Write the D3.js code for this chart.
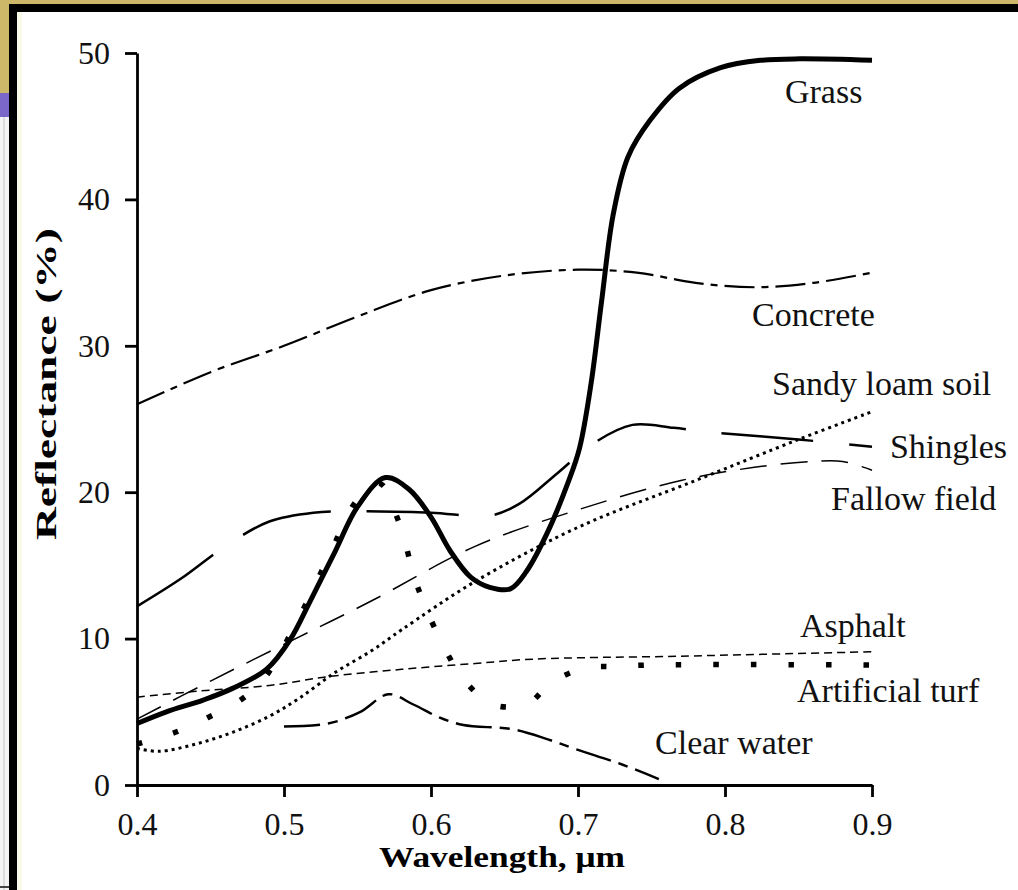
<!DOCTYPE html>
<html>
<head>
<meta charset="utf-8">
<script src="https://cdn.jsdelivr.net/npm/d3@7"></script>
<style>
  body { margin: 0; background: #fff; }
  svg { display: block; }
</style>
</head>
<body>
<svg id="my-svg"></svg>
<script>
// reflectance curves, [wavelength um, reflectance %]
const grass = [[0.40,4.2],[0.42,5.0],[0.445,5.8],[0.465,6.6],[0.488,7.9],[0.504,9.9],[0.518,12.6],
  [0.535,16.0],[0.55,19.0],[0.569,21.0],[0.585,20.2],[0.60,18.3],[0.613,16.0],[0.627,14.2],
  [0.64,13.5],[0.654,13.4],[0.665,14.6],[0.679,17.2],[0.693,20.6],[0.701,23.0],[0.709,27.5],
  [0.716,33.0],[0.724,39.0],[0.734,42.9],[0.749,45.4],[0.769,47.6],[0.797,49.0],[0.824,49.5],
  [0.851,49.6],[0.90,49.5]];
const concrete = [[0.40,26.0],[0.45,28.2],[0.50,30.0],[0.55,32.0],[0.60,33.8],[0.65,34.8],
  [0.70,35.2],[0.74,35.0],[0.78,34.3],[0.82,34.0],[0.86,34.3],[0.90,35.0]];
const sandyLoam = [[0.40,2.5],[0.415,2.3],[0.44,2.8],[0.465,3.6],[0.49,4.7],[0.51,5.9],[0.535,7.7],
  [0.56,9.2],[0.58,10.6],[0.63,13.9],[0.70,17.6],[0.78,20.8],[0.85,23.6],[0.90,25.5]];
const shingles = [[0.40,12.2],[0.43,14.1],[0.46,16.3],[0.49,18.0],[0.52,18.6],[0.55,18.7],
  [0.60,18.6],[0.64,18.4],[0.66,19.2],[0.686,21.3],[0.71,23.3],[0.737,24.6],[0.765,24.4],
  [0.79,24.1],[0.85,23.6],[0.90,23.1]];
const fallow = [[0.40,4.5],[0.45,7.1],[0.51,10.1],[0.56,12.6],[0.63,16.3],[0.70,18.8],[0.77,20.8],
  [0.82,21.7],[0.86,22.1],[0.88,22.1],[0.90,21.5]];
const asphalt = [[0.40,6.0],[0.44,6.4],[0.49,6.8],[0.53,7.4],[0.58,7.9],[0.63,8.3],[0.67,8.6],
  [0.77,8.8],[0.90,9.1]];
const turf = [[0.40,2.8],[0.426,3.6],[0.448,4.6],[0.469,5.7],[0.486,7.2],[0.51,11.4],[0.53,15.5],
  [0.55,19.5],[0.565,20.6],[0.578,18.0],[0.591,13.5],[0.611,9.0],[0.624,7.0],[0.642,5.5],
  [0.665,5.5],[0.682,7.0],[0.705,8.0],[0.727,8.1],[0.75,8.2],[0.90,8.2]];
const clearWater = [[0.50,4.0],[0.53,4.2],[0.552,5.0],[0.571,6.2],[0.588,5.5],[0.606,4.6],
  [0.622,4.1],[0.656,3.8],[0.68,3.1],[0.70,2.4],[0.73,1.4],[0.755,0.4]];

const xTicks = [0.4, 0.5, 0.6, 0.7, 0.8, 0.9];
const yTicks = [0, 10, 20, 30, 40, 50];

const width = 1018, height = 890;

const svg = d3.select("#my-svg")
    .attr("width", width)
    .attr("height", height);

// slide frame
svg.append("rect").attr("x", 0).attr("y", 0).attr("width", width).attr("height", 4).attr("fill", "#cdb86a");
svg.append("rect").attr("x", 0).attr("y", 0).attr("width", 9).attr("height", 93).attr("fill", "#cdb86a");
svg.append("rect").attr("x", 0).attr("y", 93).attr("width", 9).attr("height", 24).attr("fill", "#7b67c9");
svg.append("rect").attr("x", 0).attr("y", 117).attr("width", 9).attr("height", height - 117).attr("fill", "#f4f4f4");
svg.append("rect").attr("x", 3).attr("y", 117).attr("width", 2).attr("height", height - 117).attr("fill", "#dcdcdc");
svg.append("rect").attr("x", 0).attr("y", 886).attr("width", 9).attr("height", 2).attr("fill", "#444");
svg.append("rect").attr("x", 9).attr("y", 4).attr("width", width - 9).attr("height", 8).attr("fill", "#000");
svg.append("rect").attr("x", 9).attr("y", 4).attr("width", 8).attr("height", height - 4).attr("fill", "#000");
svg.append("rect").attr("x", 17).attr("y", 12).attr("width", 5).attr("height", height - 12).attr("fill", "#fbfbe9");

const x = d3.scaleLinear().domain([0.4, 0.9]).range([137, 872]);
const y = d3.scaleLinear().domain([0, 50]).range([785, 53]);

const font = "'Liberation Serif', 'Times New Roman', serif";

const line = d3.line()
    .x(d => x(d[0]))
    .y(d => y(d[1]))
    .curve(d3.curveCatmullRom.alpha(0.5));

const series = [
  { data: concrete,   width: 2.2, dash: "30,7,7,7" },
  { data: shingles,   width: 2.5, dash: "92,36" },
  { data: fallow,     width: 1.5, dash: "27,14" },
  { data: sandyLoam,  width: 3,   dash: "3,4" },
  { data: asphalt,    width: 1.5, dash: "8,5" },
  { data: clearWater, width: 2.4, dash: "36,8,10,8" },
  { data: turf,       width: 5.5, dash: "5.5,32" },
  { data: grass,      width: 5,   dash: null }
];

svg.append("g")
  .selectAll("path")
  .data(series)
  .join("path")
    .attr("d", d => line(d.data))
    .attr("fill", "none")
    .attr("stroke", "#000")
    .attr("stroke-width", d => d.width)
    .attr("stroke-dasharray", d => d.dash)
    .attr("stroke-linejoin", "round");

// axes
const xAxis = svg.append("g")
    .attr("transform", `translate(0,${y(0)})`)
    .call(d3.axisBottom(x).tickValues(xTicks).tickFormat(d3.format(".1f")).tickSize(12).tickSizeOuter(0).tickPadding(15));
const yAxis = svg.append("g")
    .attr("transform", `translate(${x(0.4)},0)`)
    .call(d3.axisLeft(y).tickValues(yTicks).tickSize(12).tickSizeOuter(0).tickPadding(15));

[xAxis, yAxis].forEach(a => {
  a.select(".domain").attr("stroke-width", 2.8).attr("stroke", "#000");
  a.selectAll(".tick line").attr("stroke-width", 2.8).attr("stroke", "#000");
  a.selectAll(".tick text").attr("font-family", font).attr("font-size", 32).attr("fill", "#111");
});

svg.append("text")
    .attr("x", 502)
    .attr("y", 867)
    .attr("text-anchor", "middle")
    .attr("font-family", font)
    .attr("font-weight", "bold")
    .attr("font-size", 30)
    .attr("textLength", 246)
    .attr("lengthAdjust", "spacingAndGlyphs")
    .text("Wavelength, μm");

svg.append("text")
    .attr("transform", "translate(56,384) rotate(-90)")
    .attr("text-anchor", "middle")
    .attr("font-family", font)
    .attr("font-weight", "bold")
    .attr("font-size", 29)
    .attr("textLength", 312)
    .attr("lengthAdjust", "spacingAndGlyphs")
    .text("Reflectance (%)");

// curve labels, anchored in data space
const labels = [
  { text: "Grass",           at: [0.8408, 46.58] },
  { text: "Concrete",        at: [0.8184, 31.35] },
  { text: "Sandy loam soil", at: [0.8320, 26.64] },
  { text: "Shingles",        at: [0.9122, 22.34] },
  { text: "Fallow field",    at: [0.8721, 18.78] },
  { text: "Asphalt",         at: [0.8510, 10.10] },
  { text: "Artificial turf", at: [0.8490, 5.67] },
  { text: "Clear water",     at: [0.7524, 2.12] }
];

svg.append("g")
  .selectAll("text")
  .data(labels)
  .join("text")
    .attr("x", d => x(d.at[0]))
    .attr("y", d => y(d.at[1]))
    .attr("font-family", font)
    .attr("font-size", 34)
    .attr("fill", "#111")
    .text(d => d.text);
</script>
</body>
</html>
